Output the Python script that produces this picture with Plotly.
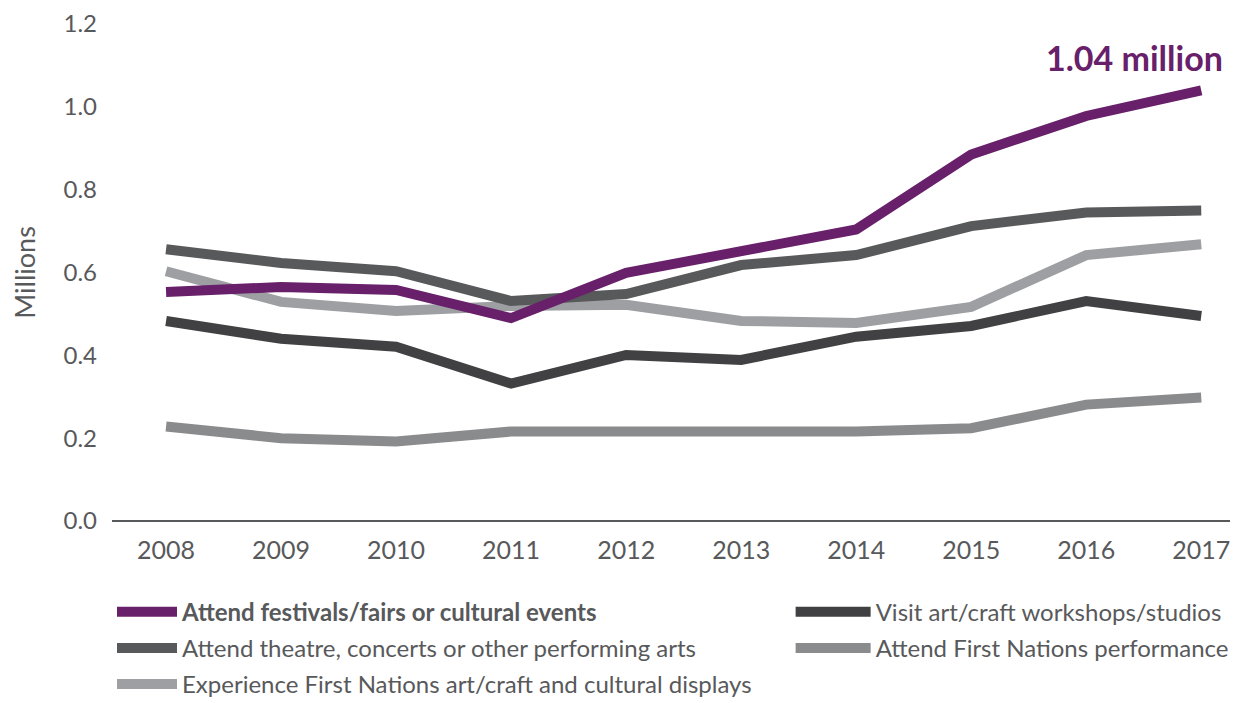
import plotly.graph_objects as go

years = [2008, 2009, 2010, 2011, 2012, 2013, 2014, 2015, 2016, 2017]

festivals = [0.553, 0.565, 0.558, 0.490, 0.599, 0.651, 0.704, 0.885, 0.978, 1.04]
theatre = [0.656, 0.623, 0.603, 0.531, 0.548, 0.618, 0.642, 0.712, 0.745, 0.750]
fn_art = [0.603, 0.529, 0.507, 0.519, 0.522, 0.483, 0.478, 0.517, 0.642, 0.668]
workshops = [0.483, 0.440, 0.421, 0.332, 0.401, 0.389, 0.445, 0.471, 0.531, 0.495]
fn_perf = [0.228, 0.200, 0.192, 0.216, 0.216, 0.216, 0.216, 0.224, 0.281, 0.298]

series = [
    ("<b>Attend festivals/fairs or cultural events</b>", festivals, "#68206a", "legend"),
    ("Attend theatre, concerts or other performing arts", theatre, "#58595b", "legend"),
    ("Experience First Nations art/craft and cultural displays", fn_art, "#9d9fa2", "legend"),
    ("Visit art/craft workshops/studios", workshops, "#414042", "legend2"),
    ("Attend First Nations performance", fn_perf, "#8a8b8d", "legend2"),
]

ytick_vals = [0.0, 0.2, 0.4, 0.6, 0.8, 1.0, 1.2]
ytick_text = ["0.0", "0.2", "0.4", "0.6", "0.8", "1.0", "1.2"]

FONT = "Lato"
GREY = "#58595b"

fig = go.Figure()
# draw order: lighter first, purple on top
order = [4, 2, 1, 3, 0]
for i in order:
    name, vals, color, leg = series[i]
    fig.add_trace(go.Scatter(
        x=years, y=vals, mode="lines", name=name,
        line=dict(color=color, width=10),
        legend=leg, legendgroup=str(i), legendrank=i,
        hoverinfo="skip",
    ))

fig.add_annotation(
    x=years[-1], y=festivals[-1], text="<b>1.04 million</b>",
    showarrow=False, xanchor="right", yanchor="bottom",
    xshift=24, yshift=10,
    font=dict(family=FONT, size=34, color="#68206a"),
)

fig.update_layout(
    width=1237, height=695,
    margin=dict(l=104, r=15, t=16, b=182, autoexpand=False),
    paper_bgcolor="white", plot_bgcolor="white",
    font=dict(family=FONT, color=GREY),
    xaxis=dict(
        range=[2007.53, 2017.25], tickvals=years, ticktext=[str(y) for y in years],
        showgrid=False, zeroline=False, showline=False,
        ticks="", tickfont=dict(size=25, color=GREY), ticklabelstandoff=12,
        tickangle=0, automargin=False, fixedrange=True,
    ),
    yaxis=dict(
        range=[0, 1.2], tickvals=ytick_vals, ticktext=ytick_text,
        showgrid=False, zeroline=True, zerolinecolor=GREY, zerolinewidth=2,
        showline=False, ticks="", tickfont=dict(size=24, color=GREY),
        ticklabelstandoff=14, ticklabeloverflow="allow", automargin=False,
        title=dict(text="Millions", font=dict(size=27, color=GREY), standoff=24),
        fixedrange=True,
    ),
    legend=dict(
        orientation="v", xref="paper", yref="paper",
        x=0.0, y=-0.138, xanchor="left", yanchor="top",
        font=dict(size=24, color=GREY), itemwidth=60,
        tracegroupgap=2, traceorder="grouped",
        bgcolor="rgba(0,0,0,0)",
    ),
    legend2=dict(
        orientation="v", xref="paper", yref="paper",
        x=0.607, y=-0.138, xanchor="left", yanchor="top",
        font=dict(size=24, color=GREY), itemwidth=75,
        tracegroupgap=2, traceorder="grouped",
        bgcolor="rgba(0,0,0,0)",
    ),
    showlegend=True,
)

fig.write_html("out.html")
